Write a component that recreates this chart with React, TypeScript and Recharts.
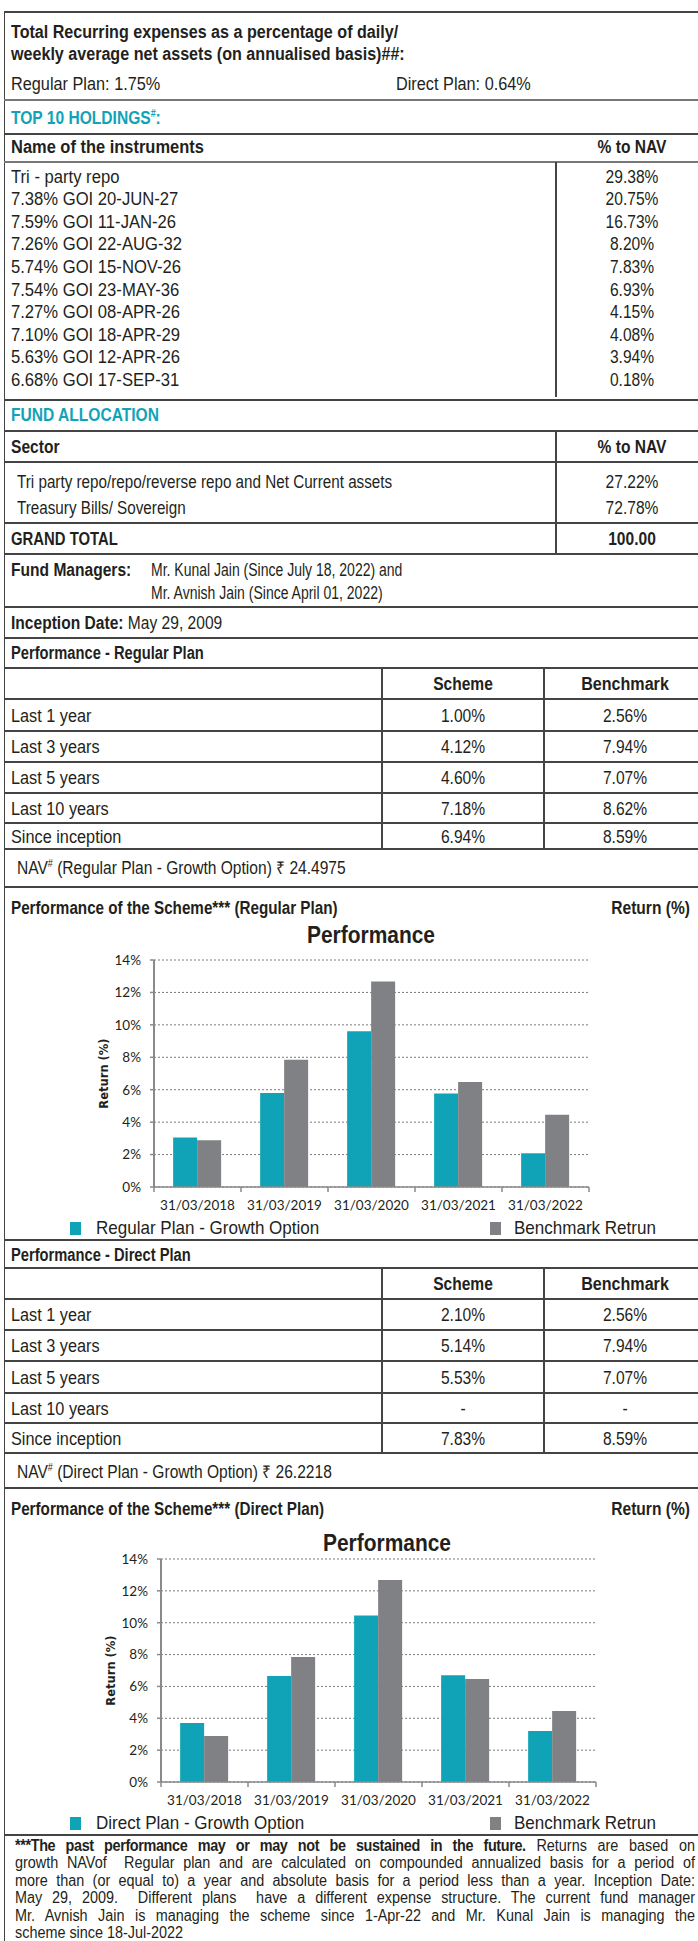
import React from "react";
import { BarChart, Bar, XAxis, YAxis, CartesianGrid } from "recharts";

// ---- data ----
const holdingNames = [
  "Tri - party repo",
  "7.38% GOI 20-JUN-27",
  "7.59% GOI 11-JAN-26",
  "7.26% GOI 22-AUG-32",
  "5.74% GOI 15-NOV-26",
  "7.54% GOI 23-MAY-36",
  "7.27% GOI 08-APR-26",
  "7.10% GOI 18-APR-29",
  "5.63% GOI 12-APR-26",
  "6.68% GOI 17-SEP-31",
];
const holdingPct = ["29.38%", "20.75%", "16.73%", "8.20%", "7.83%", "6.93%", "4.15%", "4.08%", "3.94%", "0.18%"];

const sectorNames = ["Tri party repo/repo/reverse repo and Net Current assets", "Treasury Bills/ Sovereign"];
const sectorPct = ["27.22%", "72.78%"];

const periods = ["Last 1 year", "Last 3 years", "Last 5 years", "Last 10 years", "Since inception"];
const regularScheme = ["1.00%", "4.12%", "4.60%", "7.18%", "6.94%"];
const regularBench = ["2.56%", "7.94%", "7.07%", "8.62%", "8.59%"];
const directScheme = ["2.10%", "5.14%", "5.53%", "-", "7.83%"];
const directBench = ["2.56%", "7.94%", "7.07%", "-", "8.59%"];

const chartYears = ["31/03/2018", "31/03/2019", "31/03/2020", "31/03/2021", "31/03/2022"];
const regularGrowth = [3.05, 5.8, 9.6, 5.77, 2.08];
const directGrowth = [3.7, 6.65, 10.45, 6.7, 3.2];
const benchmarkReturn = [2.89, 7.85, 12.68, 6.47, 4.46];
const yTicks = [0, 2, 4, 6, 8, 10, 12, 14];

// ---- styles ----
// no condensed face installed, so squeeze Liberation Sans horizontally
const BODY = '"Liberation Sans", Arial, sans-serif';
const CHART = 'Lato, "Open Sans", sans-serif';
const INK = "#231f20";
const TEAL = "#10a3b8";
const GRAY = "#808184";
const RULE = "#444";
const AXIS = "#8a8a8a";

type TProps = {
  x: number;
  y: number;
  children: React.ReactNode;
  bold?: boolean;
  size?: number;
  sx?: number;
  align?: "left" | "center" | "right";
  color?: string;
};

function T({ x, y, children, bold, size = 17.5, sx = 0.89, align = "left", color = INK }: TProps) {
  const shift = align === "center" ? "translateX(-50%) " : align === "right" ? "translateX(-100%) " : "";
  const origin = align === "center" ? "center" : align;
  return (
    <div
      style={{
        position: "absolute",
        left: x,
        top: y - size * 0.6,
        height: size * 1.2,
        lineHeight: `${size * 1.2}px`,
        fontSize: size,
        fontWeight: bold ? 700 : 400,
        fontFamily: BODY,
        color,
        whiteSpace: "nowrap",
        transformOrigin: `${origin} center`,
        transform: `${shift}scaleX(${sx})`,
      }}
    >
      {children}
    </div>
  );
}

function HLine({ y, color = RULE, w = 1.5 }: { y: number; color?: string; w?: number }) {
  return <div style={{ position: "absolute", left: 4, width: 694, top: y - w / 2, height: w, background: color }} />;
}

function VLine({ x, y1, y2 }: { x: number; y1: number; y2: number }) {
  return <div style={{ position: "absolute", left: x - 0.75, top: y1, width: 1.5, height: y2 - y1, background: RULE }} />;
}

const Hash = () => <sup style={{ fontSize: 10, lineHeight: 0 }}>#</sup>;

function PerfTable({ lines, scheme, bench }: { lines: number[]; scheme: string[]; bench: string[] }) {
  // lines: header top, header bottom, then the bottom of each period row
  const mid = (i: number) => (lines[i] + lines[i + 1]) / 2 + 1;
  return (
    <>
      {lines.map((y) => (
        <HLine key={y} y={y} />
      ))}
      <VLine x={382} y1={lines[0]} y2={lines[lines.length - 1]} />
      <VLine x={544} y1={lines[0]} y2={lines[lines.length - 1]} />
      <T x={463} y={mid(0)} bold align="center">Scheme</T>
      <T x={625} y={mid(0)} bold align="center" sx={0.92}>Benchmark</T>
      {periods.map((p, i) => (
        <React.Fragment key={p}>
          <T x={11} y={mid(i + 1)} sx={0.93}>{p}</T>
          <T x={463} y={mid(i + 1)} align="center">{scheme[i]}</T>
          <T x={625} y={mid(i + 1)} align="center">{bench[i]}</T>
        </React.Fragment>
      ))}
    </>
  );
}

// category tick: label under the band centre, small tick marks on the band edges
function makeYearTick(bandHalf: number) {
  return (props: any) => {
    const { x, y, payload, index, visibleTicksCount } = props;
    const half = typeof payload?.offset === "number" && payload.offset > 0 ? payload.offset : bandHalf;
    return (
      <g>
        <line x1={x - half} x2={x - half} y1={y} y2={y + 5} stroke={AXIS} strokeWidth={1.5} />
        {index === visibleTicksCount - 1 && (
          <line x1={x + half} x2={x + half} y1={y} y2={y + 5} stroke={AXIS} strokeWidth={1.5} />
        )}
        <text x={x} y={y + 18} textAnchor="middle" dominantBaseline="central" fontSize={13.5} fill={INK} fontFamily={CHART}>
          {payload.value}
        </text>
      </g>
    );
  };
}

type ChartProps = {
  top: number;
  plotLeft: number;
  plotRight: number;
  plotHeight: number;
  scheme: number[];
  legend: string;
};

function PerfChart({ top, plotLeft, plotRight, plotHeight, scheme, legend }: ChartProps) {
  const data = chartYears.map((year, i) => ({ year, scheme: scheme[i], benchmark: benchmarkReturn[i] }));
  const mTop = 10;
  const axisH = 30;
  const bandHalf = (plotRight - plotLeft) / chartYears.length / 2;
  return (
    <>
      <div style={{ position: "absolute", left: 0, top: top - mTop }}>
        <BarChart
          width={698}
          height={mTop + plotHeight + axisH}
          data={data}
          margin={{ top: mTop, right: 698 - plotRight, bottom: 0, left: plotLeft - 60 }}
          barCategoryGap="22%"
          barGap={0}
        >
          <CartesianGrid vertical={false} strokeDasharray="2 2" stroke="#7a7a7a" />
          <XAxis
            dataKey="year"
            height={axisH}
            interval={0}
            tickSize={0}
            tickMargin={0}
            tickLine={false}
            axisLine={{ stroke: AXIS, strokeWidth: 1.5 }}
            tick={makeYearTick(bandHalf)}
          />
          <YAxis
            width={60}
            domain={[0, 14]}
            ticks={yTicks}
            interval={0}
            tickFormatter={(v) => `${v}%`}
            tick={{ fontSize: 13.5, fill: INK, fontFamily: CHART }}
            tickSize={4}
            tickMargin={9}
            axisLine={{ stroke: AXIS, strokeWidth: 2 }}
            tickLine={{ stroke: AXIS, strokeWidth: 1.5 }}
            label={{
              value: "Return (%)",
              angle: -90,
              position: "insideLeft",
              offset: 10,
              style: { textAnchor: "middle", fontSize: 11.5, fontWeight: 700, fill: INK, fontFamily: '"DejaVu Sans", Verdana, sans-serif' },
            }}
          />
          <Bar dataKey="scheme" fill={TEAL} isAnimationActive={false} />
          <Bar dataKey="benchmark" fill={GRAY} isAnimationActive={false} />
        </BarChart>
      </div>
      <div style={{ position: "absolute", left: 70, top: top + plotHeight + 35, width: 11, height: 13, background: TEAL }} />
      <T x={96} y={top + plotHeight + 41} size={18.5} sx={0.92}>{legend}</T>
      <div style={{ position: "absolute", left: 490, top: top + plotHeight + 35, width: 11, height: 13, background: GRAY }} />
      <T x={514} y={top + plotHeight + 41} size={18.5} sx={0.92}>Benchmark Retrun</T>
    </>
  );
}

const footLines = [
  "growth NAVof  Regular plan and are calculated on compounded annualized basis for a period of",
  "more than (or equal to) a year and absolute basis for a period less than a year. Inception Date:",
  "May 29, 2009.  Different plans  have a different expense structure. The current fund manager",
  "Mr. Avnish Jain is managing the scheme since 1-Apr-22 and Mr. Kunal Jain is managing the",
];

export default function App() {
  const footScale = 0.9;
  const lineStyle: React.CSSProperties = {
    textAlign: "justify",
    textAlignLast: "justify",
    whiteSpace: "pre-wrap",
    height: 17.4,
  };
  return (
    <div style={{ position: "absolute", left: 0, top: 0, width: 698, height: 1941, background: "#fff", overflow: "hidden" }}>
      {/* outer frame */}
      <HLine y={12} />
      <div style={{ position: "absolute", left: 3.5, top: 12, width: 1.5, height: 1929, background: RULE }} />

      {/* expense ratio */}
      <T x={11} y={32} bold sx={0.92}>Total Recurring expenses as a percentage of daily/</T>
      <T x={11} y={54} bold sx={0.92}>weekly average net assets (on annualised basis)##:</T>
      <T x={11} y={84} sx={0.93}>Regular Plan: 1.75%</T>
      <T x={396} y={84} sx={0.93}>Direct Plan: 0.64%</T>
      <HLine y={100} color="#777" w={2} />

      {/* top 10 holdings */}
      <T x={11} y={118} bold color={TEAL}>
        TOP 10 HOLDINGS<Hash />:
      </T>
      <HLine y={134} />
      <T x={11} y={147} bold sx={0.94}>Name of the instruments</T>
      <T x={632} y={147} bold align="center">% to NAV</T>
      <HLine y={162} color="#777" />
      <VLine x={556} y1={162} y2={397} />
      {holdingNames.map((n, i) => (
        <React.Fragment key={n}>
          <T x={11} y={177 + i * 22.6} sx={0.95}>{n}</T>
          <T x={632} y={177 + i * 22.6} align="center">{holdingPct[i]}</T>
        </React.Fragment>
      ))}
      <HLine y={400} />

      {/* fund allocation */}
      <T x={11} y={415} bold color={TEAL}>FUND ALLOCATION</T>
      <HLine y={431} />
      <T x={11} y={447} bold>Sector</T>
      <T x={632} y={447} bold align="center">% to NAV</T>
      <HLine y={462} />
      <VLine x={556} y1={431} y2={554} />
      {sectorNames.map((n, i) => (
        <React.Fragment key={n}>
          <T x={17} y={482 + i * 26} sx={0.87}>{n}</T>
          <T x={632} y={482 + i * 26} align="center">{sectorPct[i]}</T>
        </React.Fragment>
      ))}
      <HLine y={523} />
      <T x={11} y={539} bold sx={0.85}>GRAND TOTAL</T>
      <T x={632} y={539} bold align="center">100.00</T>
      <HLine y={554} />

      {/* managers / inception */}
      <T x={11} y={570} bold>Fund Managers:</T>
      <T x={151} y={570} sx={0.8}>Mr. Kunal Jain (Since July 18, 2022) and</T>
      <T x={151} y={593} sx={0.8}>Mr. Avnish Jain (Since April 01, 2022)</T>
      <HLine y={607} />
      <T x={11} y={623}>
        <b>Inception Date:</b> May 29, 2009
      </T>
      <HLine y={638} />

      {/* regular plan */}
      <T x={11} y={653} bold sx={0.84}>Performance - Regular Plan</T>
      <PerfTable lines={[668, 699, 731, 762, 793, 823, 849]} scheme={regularScheme} bench={regularBench} />
      <T x={17} y={868}>
        NAV<Hash /> (Regular Plan - Growth Option) ₹ 24.4975
      </T>
      <HLine y={887} />
      <T x={11} y={908} bold sx={0.87}>Performance of the Scheme*** (Regular Plan)</T>
      <T x={690} y={908} bold align="right">Return (%)</T>
      <T x={371} y={936} bold size={23} sx={0.91} align="center">Performance</T>
      <PerfChart top={960} plotLeft={154} plotRight={589} plotHeight={227} scheme={regularGrowth} legend="Regular Plan - Growth Option" />
      <HLine y={1240} />

      {/* direct plan */}
      <T x={11} y={1255} bold sx={0.84}>Performance - Direct Plan</T>
      <PerfTable lines={[1268, 1299, 1330, 1361, 1393, 1423, 1453]} scheme={directScheme} bench={directBench} />
      <T x={17} y={1472}>
        NAV<Hash /> (Direct Plan - Growth Option) ₹ 26.2218
      </T>
      <HLine y={1488} />
      <T x={11} y={1509} bold sx={0.87}>Performance of the Scheme*** (Direct Plan)</T>
      <T x={690} y={1509} bold align="right">Return (%)</T>
      <T x={387} y={1544} bold size={23} sx={0.91} align="center">Performance</T>
      <PerfChart top={1559} plotLeft={161} plotRight={596} plotHeight={223} scheme={directGrowth} legend="Direct Plan - Growth Option" />
      <HLine y={1835} />

      {/* footnote */}
      <div
        style={{
          position: "absolute",
          left: 15,
          top: 1837,
          width: 680 / footScale,
          transformOrigin: "left top",
          transform: `scaleX(${footScale})`,
          fontFamily: BODY,
          fontSize: 16,
          lineHeight: "17.4px",
          color: INK,
        }}
      >
        <div style={lineStyle}>
          <b style={{ letterSpacing: -0.4 }}>***The past performance may or may not be sustained in the future.</b> Returns are based on
        </div>
        {footLines.map((l) => (
          <div key={l} style={lineStyle}>
            {l}
          </div>
        ))}
        <div style={{ height: 17.4 }}>scheme since 18-Jul-2022</div>
      </div>
    </div>
  );
}
